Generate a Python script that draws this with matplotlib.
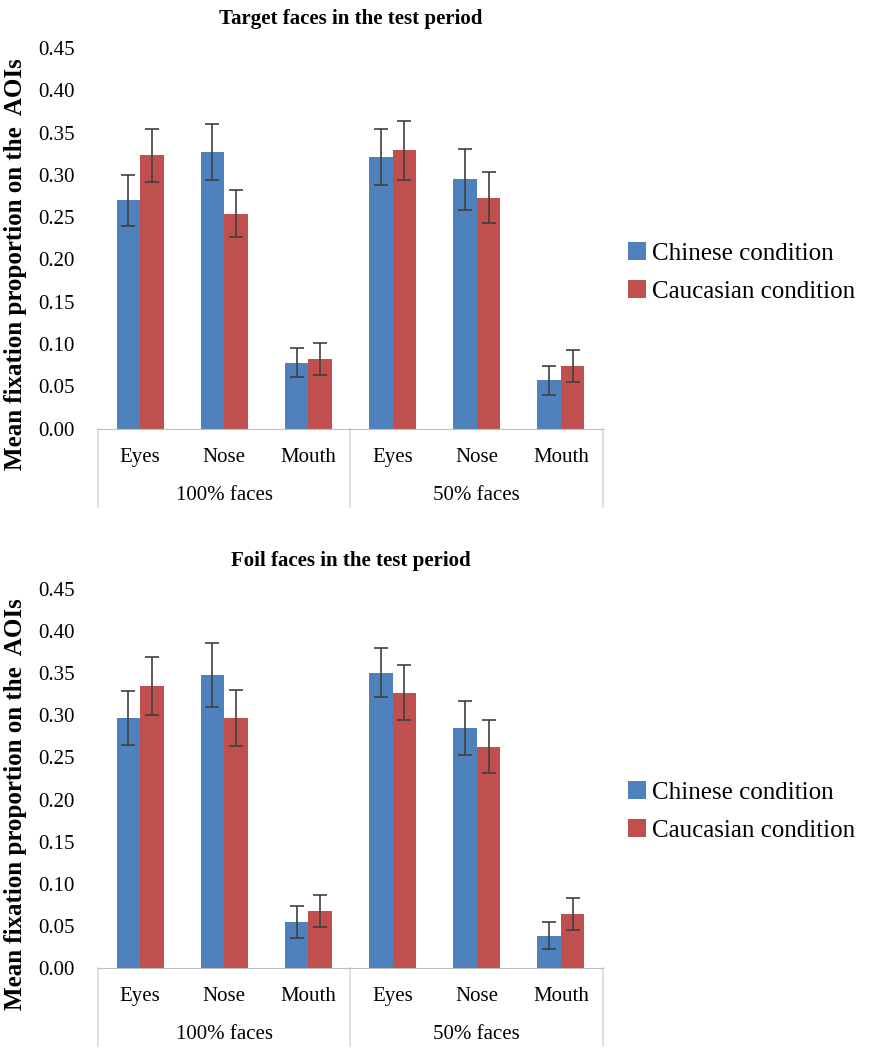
import matplotlib.pyplot as plt
import matplotlib.transforms as mtransforms
import numpy as np

# ---- data ----
areas = ['Eyes', 'Nose', 'Mouth', 'Eyes', 'Nose', 'Mouth']
groups = ['100% faces', '50% faces']
series = ['Chinese condition', 'Caucasian condition']

target_chinese = [0.270, 0.327, 0.078, 0.321, 0.295, 0.057]
target_chinese_err = [0.030, 0.033, 0.017, 0.033, 0.036, 0.017]
target_caucasian = [0.323, 0.254, 0.082, 0.329, 0.273, 0.074]
target_caucasian_err = [0.031, 0.028, 0.019, 0.035, 0.030, 0.019]

foil_chinese = [0.297, 0.348, 0.054, 0.351, 0.285, 0.038]
foil_chinese_err = [0.032, 0.038, 0.019, 0.029, 0.032, 0.016]
foil_caucasian = [0.335, 0.297, 0.067, 0.327, 0.263, 0.064]
foil_caucasian_err = [0.034, 0.033, 0.019, 0.033, 0.032, 0.019]

yticks = np.arange(0, 0.451, 0.05)

BLUE = '#4F81BD'
RED = '#C0504D'
SERIF = ['Liberation Serif', 'DejaVu Serif']
plt.rcParams['font.family'] = SERIF

W, H = 876, 1050
fig = plt.figure(figsize=(W / 100, H / 100), dpi=100)


def panel(rect, title, chin, chin_err, cauc, cauc_err, legend_y, ylabel_y):
    ax = fig.add_axes(rect)
    x = np.arange(len(areas))
    bw = 0.28
    eb = dict(ecolor='#404040', elinewidth=1.2, capsize=5, capthick=1.2)
    ax.bar(x - bw / 2, chin, bw, yerr=chin_err, color=BLUE, error_kw=eb,
           label=series[0])
    ax.bar(x + bw / 2, cauc, bw, yerr=cauc_err, color=RED, error_kw=eb,
           label=series[1])

    ax.set_xlim(-0.5, len(areas) - 0.5)
    ax.set_ylim(0, 0.45)
    ax.set_yticks(yticks)
    ax.set_yticklabels([f'{v:.2f}' for v in yticks], fontsize=15)
    ax.tick_params(axis='y', length=0, pad=17)
    ax.set_xticks(x)
    ax.set_xticklabels(areas, fontsize=15)
    ax.tick_params(axis='x', length=0, pad=21)
    for lbl in ax.get_xticklabels():
        lbl.set_va('center')

    for s in ('left', 'right', 'top'):
        ax.spines[s].set_visible(False)
    ax.spines['bottom'].set_color('#BFBFBF')

    # multi-level category axis
    trans = mtransforms.blended_transform_factory(ax.transData, ax.transAxes)
    depth = -78.5 / (rect[3] * H)
    for xb in (-0.5, 2.5, 5.5):
        ax.plot([xb, xb], [0, depth], color='#D9D9D9', lw=1.2,
                transform=trans, clip_on=False)
    for i, g in enumerate(groups):
        ax.annotate(g, xy=(1 + 3 * i, 0), xycoords=trans,
                    xytext=(0, -48), textcoords='offset points',
                    ha='center', va='center', fontsize=15)

    ax.set_title(title, fontsize=15, fontweight='bold', pad=17)

    fig.text(16 / W, 1 - ylabel_y / H, 'Mean fixation proportion on the  AOIs',
             rotation=90, ha='center', va='center', fontsize=18,
             fontweight='bold')

    fig.legend(loc='center left', bbox_to_anchor=(628 / W, 1 - legend_y / H),
               frameon=False, fontsize=18, handlelength=0.7, handleheight=0.7,
               handletextpad=0.25, labelspacing=0.62, borderpad=0,
               borderaxespad=0, handles=ax.patches[:1] + ax.patches[6:7],
               labels=series)
    return ax


panel([98 / W, 1 - 428.5 / H, 505 / W, 380.5 / H],
      'Target faces in the test period',
      target_chinese, target_chinese_err, target_caucasian, target_caucasian_err,
      272.5, 264)
panel([98 / W, 1 - 967.7 / H, 505 / W, 378.4 / H],
      'Foil faces in the test period',
      foil_chinese, foil_chinese_err, foil_caucasian, foil_caucasian_err,
      811.5, 804)

fig.savefig('out.png', dpi=100)
